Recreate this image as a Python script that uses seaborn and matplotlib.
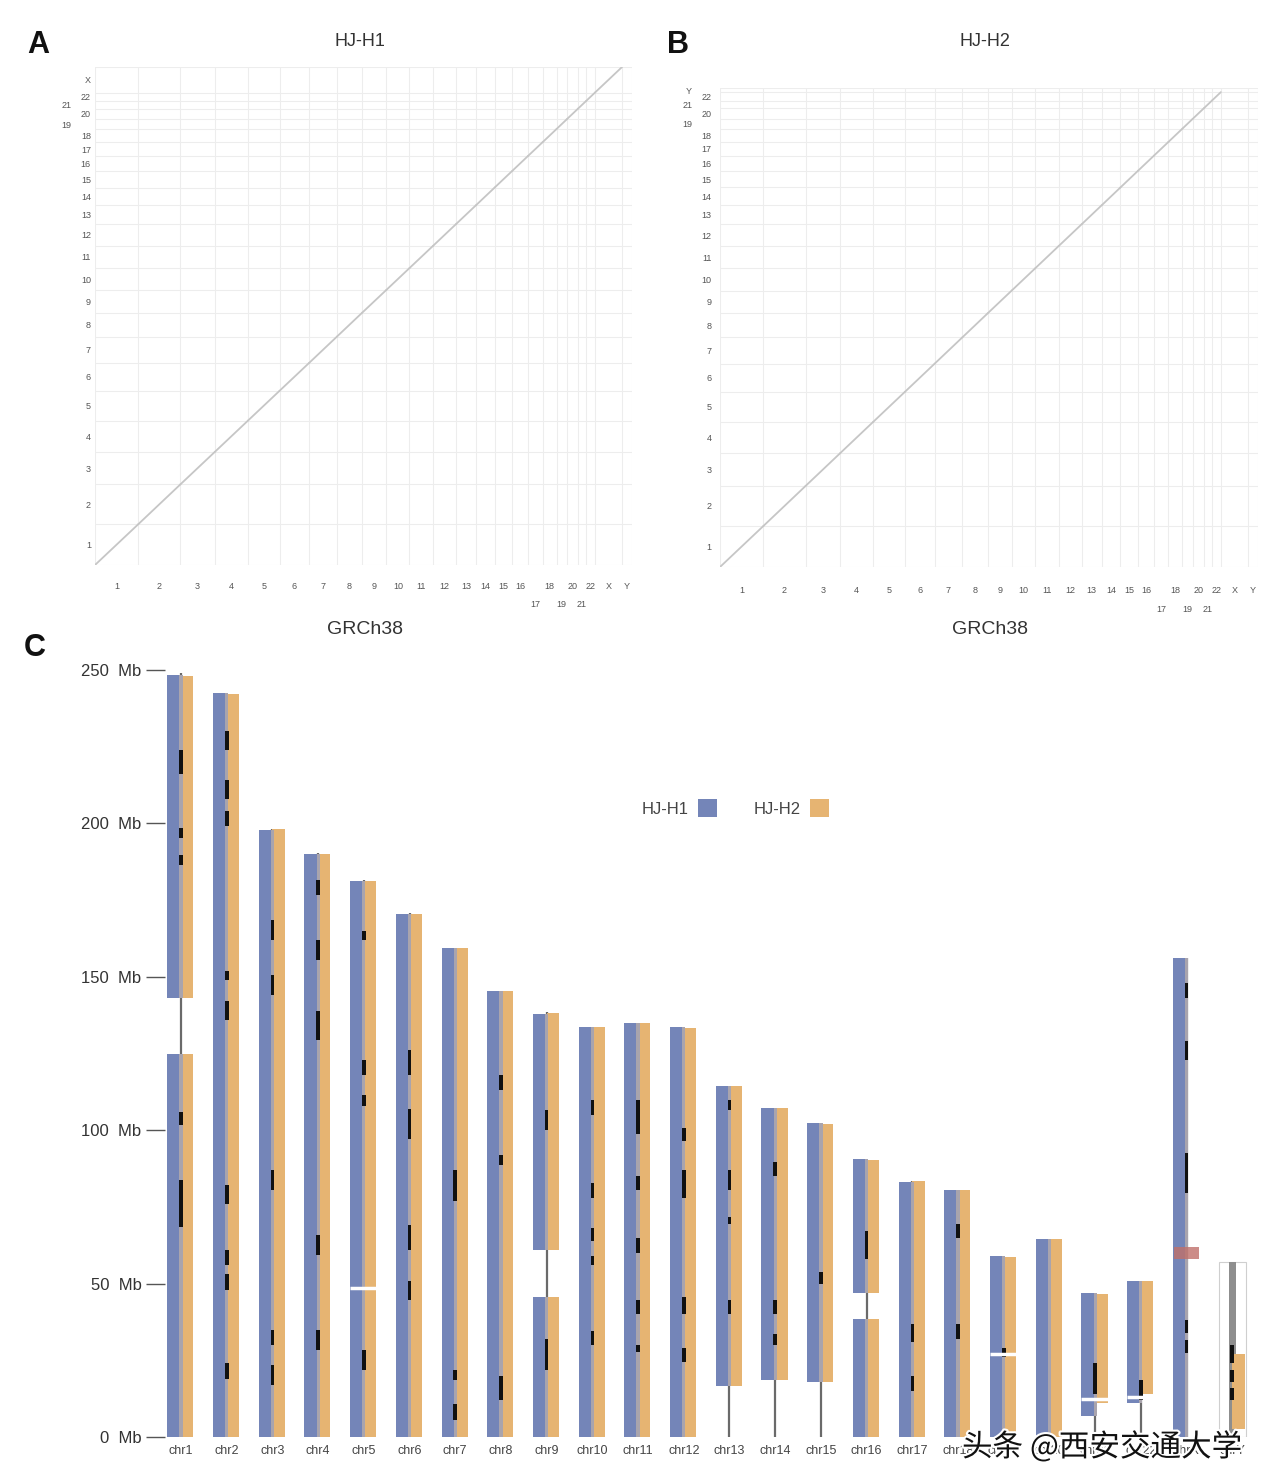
import numpy as np
import pandas as pd
import matplotlib
matplotlib.use("Agg")
import matplotlib.pyplot as plt
import matplotlib.patheffects as pe
from matplotlib.patches import Patch, Rectangle
import seaborn as sns

# ---------------- data ----------------
chroms = [str(i) for i in range(1, 23)] + ["X", "Y"]
grch38_len = [248.9, 242.2, 198.3, 190.2, 181.5, 170.8, 159.3, 145.1, 138.4, 133.8,
              135.1, 133.3, 114.4, 107.0, 102.0, 90.3, 83.3, 80.4, 58.6, 64.4,
              46.7, 50.8, 156.0, 57.2]

h1_asm_chroms = [str(i) for i in range(1, 23)] + ["X"]
h1_asm_len = [248.3, 242.5, 198.0, 190.0, 181.3, 170.5, 159.5, 145.5, 138.0, 133.7,
              135.0, 133.5, 114.4, 107.3, 102.2, 90.5, 83.2, 80.5, 59.0, 64.5,
              46.8, 51.0, 156.0]
h2_asm_chroms = [str(i) for i in range(1, 23)] + ["Y"]
h2_asm_len = [248.0, 242.3, 198.1, 190.1, 181.2, 170.6, 159.4, 145.3, 138.2, 133.6,
              135.1, 133.2, 114.3, 107.2, 102.1, 90.4, 83.3, 80.4, 58.8, 64.4,
              46.7, 50.9, 25.0]

# chromosome-level alignments shown in the dot plots
a_aln_chroms = [str(i) for i in range(1, 23)] + ["X"]
b_aln_chroms = [str(i) for i in range(1, 23)]

# staggered tick labels
x_lower_row = ["17", "19", "21"]
a_y_left = ["19", "21"]
b_y_left = ["19", "21", "Y"]

# assembled contig segments (Mb) in panel C
seg_chrom = ["1", "1", "2", "3", "4", "5", "6", "7", "8", "9", "9", "10", "11", "12",
             "13", "14", "15", "16", "16", "17", "18", "19", "20", "21", "22", "X",
             "1", "1", "2", "3", "4", "5", "6", "7", "8", "9", "9", "10", "11", "12",
             "13", "14", "15", "16", "16", "17", "18", "19", "20", "21", "22", "Y"]
seg_hap = ["HJ-H1"] * 26 + ["HJ-H2"] * 26
seg_start = [0, 143, 0, 0, 0, 0, 0, 0, 0, 0, 61, 0, 0, 0,
             16.6, 18.5, 18.0, 0, 47, 0, 0, 0, 0, 7, 11, 0,
             0, 143, 0, 0, 0, 0, 0, 0, 0, 0, 61, 0, 0, 0,
             16.6, 18.5, 18.0, 0, 47, 0, 0, 0, 0, 11, 14, 2.5]
seg_end = [125, 248.3, 242.5, 198.0, 190.0, 181.3, 170.5, 159.5, 145.5, 45.5, 138.0, 133.7, 135.0, 133.5,
           114.4, 107.3, 102.2, 38.5, 90.5, 83.2, 80.5, 59.0, 64.5, 46.8, 51.0, 156.0,
           125, 248.0, 242.3, 198.1, 190.1, 181.2, 170.6, 159.4, 145.3, 45.5, 138.2, 133.6, 135.1, 133.2,
           114.3, 107.2, 102.1, 38.5, 90.4, 83.3, 80.4, 58.8, 64.4, 46.7, 50.9, 27.0]

# dark bands drawn in the centre stripe (Mb)
band_chrom = ["1", "1", "1", "1", "1",
              "2", "2", "2", "2", "2", "2", "2", "2", "2",
              "3", "3", "3", "3", "3",
              "4", "4", "4", "4", "4",
              "5", "5", "5", "5",
              "6", "6", "6", "6",
              "7", "7", "7",
              "8", "8", "8",
              "9", "9",
              "10", "10", "10", "10", "10",
              "11", "11", "11", "11", "11",
              "12", "12", "12", "12",
              "13", "13", "13", "13",
              "14", "14", "14",
              "15",
              "16",
              "17", "17",
              "18", "18",
              "19",
              "21",
              "22",
              "X", "X", "X", "X", "X", "X",
              "Y", "Y", "Y"]
band_start = [216, 195.4, 186.5, 101.8, 68.4,
              224, 208, 199, 149, 136, 76, 56, 48, 19,
              162, 144, 80.6, 30, 17,
              176.7, 155.5, 129.5, 59.4, 28.5,
              162, 118, 108, 22,
              118, 97, 61, 44.8,
              77, 18.7, 5.7,
              113, 88.8, 12,
              100, 22,
              105, 78, 64, 56, 30,
              98.8, 80.5, 60, 40, 27.7,
              96.5, 78, 40, 24.4,
              106.6, 80.5, 69.4, 40,
              85, 40, 30,
              50,
              58,
              31, 15,
              65, 32,
              26,
              14,
              12,
              143, 123, 86, 79.5, 34, 27.4,
              12, 18, 24]
band_end = [224, 198.5, 189.7, 105.9, 83.9,
            230, 214, 204, 152, 142, 82, 61, 53, 24,
            168.5, 150.6, 87, 35, 23.6,
            181.6, 162, 139, 66, 35,
            165, 123, 111.5, 28.5,
            126, 106.8, 69, 51,
            87, 22, 10.6,
            118, 92, 20,
            106.7, 31.8,
            109.8, 82.8, 68, 59, 34.5,
            110, 85, 65, 44.6, 30,
            100.7, 87, 45.6, 29,
            110, 87, 71.7, 44.6,
            89.6, 44.6, 33.6,
            53.8,
            67,
            36.8, 20,
            69.4, 36.8,
            29,
            24,
            18.6,
            148, 129, 92.6, 86, 38, 31.6,
            16, 22, 30]

# white breaks across the pair (Mb)
mark_chrom = ["5", "19", "21", "22"]
mark_pos = [48.5, 27.0, 12.5, 13.0]

# centromere tint
cen_chrom = ["X"]
cen_start = [58.0]
cen_end = [62.0]

# reference-only outline (no assembled H1 sequence)
outline_chrom = ["Y"]

yticks_c = [0, 50, 100, 150, 200, 250]
ytick_labels_c = ["0  Mb", "50  Mb", "100  Mb", "150  Mb", "200  Mb", "250  Mb"]

blue = "#7485b8"
orange = "#e6b472"

# ---------------- style ----------------
sns.set_theme(style="white")
plt.rcParams["font.family"] = ["Liberation Sans", "DejaVu Sans", "Noto Sans CJK SC"]

W, H = 1288, 1466
fig = plt.figure(figsize=(W / 100, H / 100), dpi=100)


def px_axes(l, t, r, b):
    return fig.add_axes([l / W, 1 - b / H, (r - l) / W, (b - t) / H])


def dotplot(ax, ychroms, ylens, aln, yleft, xpad, xpad_low, ypad, ypad_left):
    xcum = np.concatenate([[0], np.cumsum(grch38_len)])
    ycum = np.concatenate([[0], np.cumsum(ylens)])
    for v in xcum:
        ax.axvline(v, color="#ededed", lw=0.8, zorder=0)
    for v in ycum:
        ax.axhline(v, color="#ededed", lw=0.8, zorder=0)
    rows = []
    for c in aln:
        i = chroms.index(c)
        j = ychroms.index(c)
        rows.append(dict(chrom=c, x=xcum[i], y=ycum[j]))
        rows.append(dict(chrom=c, x=xcum[i + 1], y=ycum[j + 1]))
    df = pd.DataFrame(rows)
    sns.lineplot(data=df, x="x", y="y", units="chrom", estimator=None, sort=False,
                 color="#c6c6c6", lw=1.3, ax=ax, legend=False)
    ax.set_xlim(0, xcum[-1])
    ax.set_ylim(0, ycum[-1])
    xmid = (xcum[:-1] + xcum[1:]) / 2
    ymid = (ycum[:-1] + ycum[1:]) / 2
    xmaj = [(m, c) for m, c in zip(xmid, chroms) if c not in x_lower_row]
    xmin = [(m, c) for m, c in zip(xmid, chroms) if c in x_lower_row]
    ymaj = [(m, c) for m, c in zip(ymid, ychroms) if c not in yleft]
    ymin = [(m, c) for m, c in zip(ymid, ychroms) if c in yleft]
    ax.set_xticks([m for m, _ in xmaj])
    ax.set_xticklabels([c for _, c in xmaj])
    ax.set_xticks([m for m, _ in xmin], minor=True)
    ax.set_xticklabels([c for _, c in xmin], minor=True)
    ax.set_yticks([m for m, _ in ymaj])
    ax.set_yticklabels([c for _, c in ymaj])
    ax.set_yticks([m for m, _ in ymin], minor=True)
    ax.set_yticklabels([c for _, c in ymin], minor=True)
    ax.tick_params(axis="x", which="major", pad=xpad, length=0, labelsize=6.5, labelcolor="#555555")
    ax.tick_params(axis="x", which="minor", pad=xpad_low, length=0, labelsize=6.5, labelcolor="#555555")
    ax.tick_params(axis="y", which="major", pad=ypad, length=0, labelsize=6.5, labelcolor="#555555")
    ax.tick_params(axis="y", which="minor", pad=ypad_left, length=0, labelsize=6.5, labelcolor="#555555")
    ax.set_xlabel("")
    ax.set_ylabel("")
    for s in ax.spines.values():
        s.set_visible(False)


axA = px_axes(95, 67, 632, 565)
dotplot(axA, h1_asm_chroms, h1_asm_len, a_aln_chroms, a_y_left, 12, 25, 3, 17)
axB = px_axes(720, 88, 1258, 567)
dotplot(axB, h2_asm_chroms, h2_asm_len, b_aln_chroms, b_y_left, 14, 27, 6, 20)

fig.text(38 / W, 1 - 45 / H, "A", fontsize=22, fontweight="bold", ha="center", va="center", color="#111111")
fig.text(678 / W, 1 - 45 / H, "B", fontsize=22, fontweight="bold", ha="center", va="center", color="#111111")
fig.text(360 / W, 1 - 42 / H, "HJ-H1", fontsize=13, ha="center", va="center", color="#333333")
fig.text(985 / W, 1 - 42 / H, "HJ-H2", fontsize=13, ha="center", va="center", color="#333333")
fig.text(365 / W, 1 - 630 / H, "GRCh38", fontsize=14, ha="center", va="center", color="#333333")
fig.text(990 / W, 1 - 630 / H, "GRCh38", fontsize=14, ha="center", va="center", color="#333333")
fig.text(35 / W, 1 - 648 / H, "C", fontsize=22, fontweight="bold", ha="center", va="center", color="#111111")

# ---------------- panel C ----------------
axC = px_axes(165, 670, 1262, 1437)
xpos = {c: i for i, c in enumerate(chroms)}

# reference outline for chromosomes lacking H1 sequence
for c in outline_chrom:
    L = grch38_len[chroms.index(c)]
    axC.add_patch(Rectangle((xpos[c] - 0.30, 0), 0.60, L, facecolor="white",
                            edgecolor="#cfcfcf", lw=0.8, zorder=1))
    axC.bar([xpos[c]], [L], width=0.16, bottom=0, color="#8e8e8e", lw=0, zorder=2)

# backbone line of every chromosome
axC.vlines([xpos[c] for c in chroms], 0, grch38_len, color="#6a6a6a", lw=1.6, zorder=1)

seg_df = pd.DataFrame(dict(chrom=seg_chrom, hap=seg_hap, start=seg_start, end=seg_end))
for hap, off, w, col in [("HJ-H1", -0.15, 0.30, blue), ("HJ-H2", 0.135, 0.27, orange)]:
    sub = seg_df[seg_df["hap"] == hap]
    axC.bar(sub["chrom"].map(xpos) + off, sub["end"] - sub["start"], bottom=sub["start"],
            width=w, color=col, lw=0, zorder=2)
# light centre stripe over the assembled parts
for _, r in seg_df[seg_df["hap"] == "HJ-H1"].iterrows():
    axC.bar([xpos[r["chrom"]]], [r["end"] - r["start"]], bottom=[r["start"]], width=0.07,
            color="#a9a4ad", lw=0, zorder=3)

cen_df = pd.DataFrame(dict(chrom=cen_chrom, start=cen_start, end=cen_end))
axC.bar(cen_df["chrom"].map(xpos), cen_df["end"] - cen_df["start"], bottom=cen_df["start"],
        width=0.56, color="#c0706a", alpha=0.8, lw=0, zorder=3)

band_df = pd.DataFrame(dict(chrom=band_chrom, start=band_start, end=band_end))
axC.bar(band_df["chrom"].map(xpos), band_df["end"] - band_df["start"], bottom=band_df["start"],
        width=0.08, color="#111111", lw=0, zorder=4)

mark_df = pd.DataFrame(dict(chrom=mark_chrom, pos=mark_pos))
axC.hlines(mark_df["pos"], mark_df["chrom"].map(xpos) - 0.3, mark_df["chrom"].map(xpos) + 0.28,
           color="white", lw=2.5, zorder=5)

axC.set_xlim(-0.35, 23.65)
axC.set_ylim(0, 250)
axC.set_yticks(yticks_c)
axC.set_yticklabels(ytick_labels_c)
axC.set_xticks(range(len(chroms)))
axC.set_xticklabels(["chr" + c for c in chroms])
axC.tick_params(axis="y", length=14, width=1, color="#555555", labelsize=12, labelcolor="#333333", pad=3, left=True)
axC.tick_params(axis="x", length=0, labelsize=9, labelcolor="#444444", pad=6)
sns.despine(ax=axC, left=True, bottom=True)
axC.set_xlabel("")
axC.set_ylabel("")

handles = [Patch(facecolor=blue, edgecolor="none"), Patch(facecolor=orange, edgecolor="none")]
fig.legend(handles, ["HJ-H1", "HJ-H2"], loc="center", bbox_to_anchor=(735 / W, 1 - 808 / H),
           ncol=2, frameon=False, markerfirst=False, handlelength=1.1, handleheight=1.3,
           columnspacing=2.2, handletextpad=0.6, fontsize=12, labelcolor="#444444")

# watermark present in the source image (overlaps the last labels, as in the source)
fig.text(962 / W, 1 - 1447 / H, "头条 @西安交通大学", fontsize=22, ha="left", va="center",
         family=["Noto Sans CJK SC", "DejaVu Sans"], color="#111111",
         path_effects=[pe.withStroke(linewidth=3, foreground="white")], zorder=10)

fig.savefig("out.png", dpi=100, facecolor="white")
